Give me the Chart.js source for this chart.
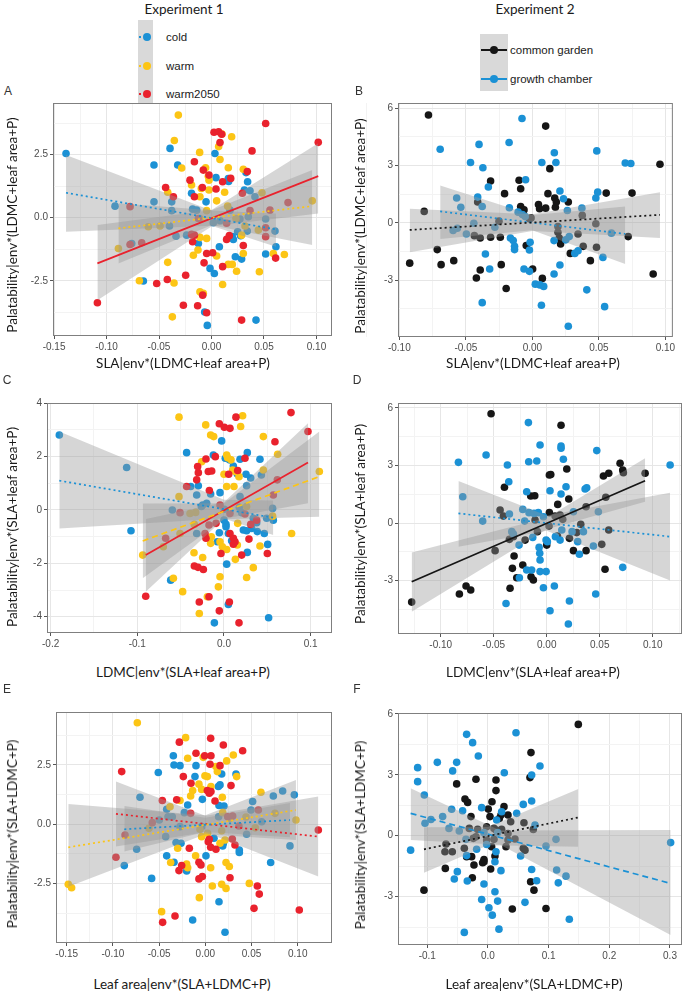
<!DOCTYPE html>
<html>
<head>
<meta charset="utf-8">
<script src="https://cdn.jsdelivr.net/npm/chart.js@4.4.1/dist/chart.umd.min.js"></script>
<style>
    html, body { margin: 0; padding: 0; background: #fff; }
    body { position: relative; width: 685px; height: 992px; overflow: hidden; font-family: 'Liberation Sans', Arial, sans-serif; }
    canvas { position: absolute; }
    .txt { position: absolute; white-space: nowrap; transform: translate(-50%, -50%); color: #1a1a1a; }
    .ttl { font-family: Lato, sans-serif; font-size: 13.5px; }
    .ytl { transform: translate(-50%, -50%) rotate(-90deg); }
    .letter { font-size: 12px; color: #333; }
    .keybox { position: absolute; background: #d9d9d9; }
    .key-dot { position: absolute; width: 8px; height: 8px; border-radius: 50%; transform: translate(-50%, -50%); }
    .key-lbl { position: absolute; font-size: 11.5px; color: #1a1a1a; transform: translateY(-50%); white-space: nowrap; }
</style>
</head>
<body>
<div id="page"></div>
<script>
/* ---------- colours ---------- */
const COLD = '#1b91d5';
const WARM = '#fcc515';
const HOT = '#e9222d';
const GARDEN = '#161616';
const BAND = 'rgba(153,153,153,0.4)';
const DOT = [2, 3];
const DASH = [6, 4];
const SOLID = [];

/* ---------- tick values ---------- */
const xTicks15 = [-0.15, -0.10, -0.05, 0, 0.05, 0.10];
const xMinor15 = [-0.125, -0.075, -0.025, 0.025, 0.075];
const xTicks10 = [-0.10, -0.05, 0, 0.05, 0.10];
const xMinor10 = [-0.125, -0.075, -0.025, 0.025, 0.075, 0.125];
const xTicksC = [-0.2, -0.1, 0, 0.1];
const xMinorC = [-0.15, -0.05, 0.05];
const xTicksF = [-0.1, 0, 0.1, 0.2, 0.3];
const xMinorF = [-0.05, 0.05, 0.15, 0.25];
const yTicks25 = [-2.5, 0, 2.5];
const yMinor25 = [-3.75, -1.25, 1.25, 3.75];
const yTicks3 = [-3, 0, 3, 6];
const yMinor3 = [-4.5, -1.5, 1.5, 4.5];
const yTicks2 = [-4, -2, 0, 2, 4];
const yMinor2 = [-3, -1, 1, 3];

/* ---------- legend ---------- */
const exp1Labels = ['cold', 'warm', 'warm2050'];
const exp2Labels = ['common garden', 'growth chamber'];

/* ---------- panel A : SLA, experiment 1 ---------- */
const A_cold = [[-0.1386,2.55],[-0.0548,2.09],[-0.0395,2.75],[-0.0322,2.09],[-0.0919,0.46],[-0.0548,0.63],[-0.0379,0.63],[-0.0379,0.28],[-0.040,-0.33],[-0.0338,-0.73],[-0.076,-1.02],[-0.0649,-2.51],[-0.0237,-0.69],[-0.019,0.97],[-0.018,0.34],[-0.0141,0.30],[-0.0125,-1.02],[-0.0052,0.63],[-0.0014,-2.01],[0.0027,-2.21],[-0.0065,-3.74],[-0.004,-4.27],[0.0033,2.55],[0.0043,1.59],[0.0075,-1.15],[0.016,1.55],[0.0163,1.44],[0.0176,0.30],[0.0198,-0.75],[0.0208,-0.86],[0.0227,-1.55],[0.0249,-0.56],[0.0278,-0.71],[0.0287,-1.64],[0.0271,-0.05],[0.0313,1.10],[0.0329,1.79],[0.0344,1.43],[0.0367,1.07],[0.0351,0.04],[0.0414,0.83],[0.0424,-4.06],[0.0516,-1.44],[0.0614,-1.15],[0.0605,-0.53],[0.0516,-0.05],[0.0341,-0.53],[0.0017,-0.20],[0.0081,-0.12]];
const A_warm = [[-0.0316,4.07],[-0.0354,3.06],[-0.0284,1.97],[-0.0113,2.59],[-0.0056,1.98],[-0.003,1.65],[0.0068,2.82],[0.0081,2.31],[0.01,3.32],[0.0192,3.21],[0.016,1.98],[0.0125,1.01],[0.0049,0.67],[-0.0024,1.10],[-0.0097,1.16],[-0.0024,1.49],[-0.011,0.83],[-0.019,1.30],[-0.0417,1.01],[-0.0887,-1.22],[-0.0687,-2.50],[-0.0602,-0.36],[-0.049,-0.33],[-0.0417,-1.77],[-0.0357,-2.59],[-0.0373,-3.93],[-0.0173,-1.49],[-0.0129,-1.28],[-0.011,-0.78],[-0.011,-2.94],[-0.0078,-3.00],[-0.0046,-0.82],[0.0049,-1.52],[0.0106,-2.65],[0.016,-1.85],[0.0198,-1.85],[0.0239,-2.12],[0.0287,-0.69],[0.0303,-1.42],[0.0303,1.92],[0.0319,-0.33],[0.0456,-2.14],[0.0481,0.99],[0.0446,-0.49],[0.0589,-1.42],[0.0694,-1.46],[0.096,0.67],[0.0154,0.46],[-0.0046,0.28],[0.0233,-0.03],[-0.011,-0.03]];
const A_hot = [[-0.1087,-3.37],[-0.0522,-2.61],[-0.0421,-2.45],[-0.0437,1.20],[-0.0363,0.83],[-0.0246,-2.28],[-0.0268,-3.47],[-0.0132,-3.49],[-0.0084,-3.07],[-0.0046,-3.77],[-0.0205,1.49],[-0.0163,2.22],[-0.0163,0.83],[-0.0078,1.89],[-0.0024,1.69],[-0.0087,1.20],[0.0024,3.39],[0.0068,3.41],[0.0097,3.31],[0.0081,2.98],[0.0043,1.14],[0.0106,1.43],[0.0183,1.56],[0.0294,0.97],[0.0341,1.83],[0.0386,2.65],[0.0516,3.74],[0.1017,2.99],[0.0729,0.60],[0.0557,0.30],[0.0516,-0.40],[0.0516,-0.75],[0.0611,-1.60],[0.0367,0.28],[0.0287,-4.06],[0.0303,-1.10],[0.0106,-1.94],[0.017,-0.71],[0.0144,-0.86],[-0.0046,-1.42],[0.0011,-1.39],[-0.0071,-1.79],[-0.018,-0.95],[-0.0163,-0.69],[-0.019,-0.66],[-0.0776,-1.06],[-0.0665,-0.99],[-0.0776,0.44],[-0.0125,-0.03],[0.0144,-0.22]];
const A_fitCold = [[-0.1386,0.99],[0.0614,-0.46]];
const A_fitWarm = [[-0.0887,-0.42],[0.096,0.46]];
const A_fitHot = [[-0.1087,-1.81],[0.1017,1.65]];
// band rows: [x, lower, upper]
const A_bandCold = [[-0.1386,-0.56,2.49],[0,-0.32,0.29],[0.0614,-1.15,0.17]];
const A_bandWarm = [[-0.0887,-1.81,0.57],[0,-0.30,0.30],[0.096,-1.08,1.89]];
const A_bandHot = [[-0.1087,-3.27,-0.29],[0,-0.35,0.31],[0.1017,0.17,2.95]];

/* ---------- panel B : SLA, experiment 2 ---------- */
const B_garden = [[-0.0781,5.65],[-0.0813,0.60],[-0.0922,-2.11],[-0.0715,-1.40],[-0.0686,-2.19],[-0.0591,-1.98],[-0.0421,-2.89],[-0.0392,-2.47],[-0.0392,-0.79],[-0.0436,-0.67],[-0.0411,1.09],[-0.0314,2.19],[-0.0314,-0.75],[-0.0251,0.09],[-0.0241,-0.75],[-0.0234,-2.19],[-0.0209,1.53],[-0.0197,-3.44],[-0.0100,2.23],[-0.0088,1.79],[-0.0088,0.86],[-0.0063,0.68],[-0.0046,-1.19],[-0.0022,0.21],[-0.0010,0.26],[0.0002,-2.42],[0.0046,0.96],[0.0054,0.74],[0.0075,-2.91],[0.0100,5.07],[0.0100,0.77],[0.0117,1.53],[0.0131,2.84],[0.0168,1.30],[0.0173,0.82],[0.0180,1.09],[0.0192,-0.49],[0.0192,-0.19],[0.0202,-0.79],[0.0212,-1.11],[0.0270,1.09],[0.0285,-1.60],[0.0343,-0.58],[0.0375,0.39],[0.0382,-1.23],[0.0436,-1.98],[0.0482,-1.28],[0.0477,-0.05],[0.0555,1.56],[0.0720,-0.72],[0.0749,1.56],[0.0908,-2.68],[0.0959,3.07]];
const B_chamber = [[-0.0693,3.86],[-0.0465,3.16],[-0.0401,4.11],[-0.0372,2.89],[-0.0331,1.88],[-0.0411,1.35],[-0.0377,0.86],[-0.0569,1.30],[-0.0538,0.82],[-0.0596,-0.40],[-0.0564,-0.28],[-0.0496,-0.58],[-0.0440,-0.02],[-0.0353,-1.63],[-0.0321,-2.42],[-0.0377,-4.18],[-0.0282,-0.23],[-0.0175,4.21],[-0.0173,0.79],[-0.0165,-0.79],[-0.0144,-0.93],[-0.0134,-1.23],[-0.0134,-1.40],[-0.0078,5.47],[-0.0107,0.56],[-0.0075,0.44],[-0.0054,0.33],[-0.0051,2.26],[-0.0063,-2.42],[-0.0022,-2.54],[-0.0017,-1.02],[-0.0022,-1.42],[0.0022,-3.21],[0.0056,-3.25],[0.0085,-3.33],[0.0068,-4.32],[0.0071,3.16],[0.0165,3.67],[0.0177,3.16],[0.0163,-0.93],[0.0163,-2.68],[0.0207,1.67],[0.0207,-2.21],[0.0234,1.26],[0.0251,-0.89],[0.0263,0.65],[0.0270,-5.42],[0.0277,-0.72],[0.0319,-1.60],[0.0343,-1.46],[0.0372,0.77],[0.0409,-3.51],[0.0477,1.30],[0.0484,3.77],[0.0491,1.61],[0.0530,-1.81],[0.0543,-4.39],[0.0594,-0.54],[0.0698,3.14],[0.0740,3.11]];
const B_fitGarden = [[-0.0922,-0.37],[0.0959,0.42]];
const B_fitChamber = [[-0.0693,0.60],[0.0698,-0.58]];
const B_bandGarden = [[-0.0922,-1.54,0.74],[0,-0.42,0.45],[0.0959,-0.79,1.61]];
const B_bandChamber = [[-0.0693,-0.84,1.96],[0,-0.39,0.41],[0.0698,-2.16,0.86]];

/* ---------- panel C : LDMC, experiment 1 ---------- */
const C_cold = [[-0.19,2.81],[-0.1123,1.59],[-0.1073,-0.78],[-0.0596,0.0],[-0.0615,-2.63],[-0.0431,2.15],[-0.0384,0.88],[-0.0296,0.91],[-0.0315,0.56],[-0.0315,-0.88],[-0.0261,0.13],[-0.0246,0.19],[-0.020,0.25],[-0.0154,0.60],[-0.0123,2.06],[-0.0046,0.65],[-0.0027,2.59],[0.0,-0.38],[0.0023,-0.54],[0.0023,-0.63],[0.0031,-2.03],[0.005,-0.88],[0.0015,1.94],[0.0062,1.88],[-0.0077,-1.19],[-0.0054,-0.85],[0.0088,-1.15],[0.0108,1.65],[0.0154,1.35],[0.0177,0.10],[0.0185,1.90],[0.0204,-0.10],[0.0223,-0.75],[0.0254,1.34],[0.0261,0.91],[0.0269,2.15],[0.0261,-0.78],[0.0269,-1.59],[0.0308,1.20],[0.0319,-0.69],[0.0338,-0.31],[0.0377,-0.48],[0.0384,-0.81],[0.0415,1.90],[0.0431,1.31],[0.0465,-0.88],[0.0492,-0.31],[0.0504,-1.29],[0.0561,0.06],[0.0569,-0.38],[0.0004,0.03],[0.0185,0.50],[0.005,-3.54],[-0.0111,-4.23],[0.0515,-4.04]];
const C_warm = [[-0.0519,3.48],[-0.0211,3.19],[-0.0154,2.81],[-0.0119,2.75],[0.0215,3.53],[0.0192,3.13],[-0.0258,1.81],[0.0031,2.06],[0.0042,1.96],[0.0081,1.88],[0.0,1.34],[0.0100,1.50],[0.0131,1.44],[0.0173,1.25],[0.0031,0.88],[0.0115,0.88],[0.0454,2.75],[0.0454,1.50],[0.0619,2.09],[0.11,1.44],[0.078,-0.88],[0.0561,-0.23],[-0.0519,0.50],[-0.0327,-0.09],[-0.0342,-0.54],[-0.0507,-0.88],[-0.07,-1.38],[-0.0938,-1.69],[-0.0584,-2.56],[-0.0346,-1.60],[-0.0246,-1.78],[-0.0146,-1.0],[-0.0154,-1.25],[-0.0046,-1.19],[-0.0019,-1.38],[0.0031,-1.48],[0.0131,-1.85],[0.0154,-1.31],[0.0158,-0.5],[0.0261,0.13],[0.0338,-2.16],[0.0415,-1.35],[0.0261,-2.53],[-0.0046,-2.50],[-0.0065,-2.88],[-0.0477,-3.06],[-0.0392,-0.13],[-0.0192,-3.25],[-0.0285,-3.88]];
const C_hot = [[-0.0903,-3.23],[-0.0673,-1.06],[-0.0507,-0.10],[-0.0431,0.88],[-0.0315,1.13],[-0.0296,1.40],[-0.0304,1.63],[-0.0208,1.91],[-0.0181,1.44],[-0.0142,1.46],[-0.010,2.0],[-0.0169,0.73],[-0.0054,3.23],[0.0004,3.10],[0.0069,3.06],[0.0138,3.48],[0.0054,1.34],[0.0242,1.94],[0.0158,1.48],[0.0773,3.65],[0.0969,2.94],[0.0588,2.56],[0.0615,1.13],[0.0569,0.56],[0.0377,-0.38],[0.0308,-0.54],[0.0288,-1.09],[0.0204,-1.69],[0.0069,-0.88],[0.0108,-1.06],[0.0127,-1.19],[0.0108,-1.28],[-0.0035,-1.63],[-0.0208,-1.06],[-0.0219,-0.88],[-0.0173,-0.56],[-0.0092,-0.50],[-0.0046,0.19],[0.050,-1.63],[-0.0342,-2.10],[0.0242,-0.15],[0.0069,-0.13],[-0.030,-2.15],[-0.0238,-2.23],[-0.0173,-3.25],[-0.0285,-3.45],[0.0062,-3.45],[-0.0054,-3.78],[0.0173,-4.23]];
const C_fitCold = [[-0.19,1.10],[0.0569,-0.29]];
const C_fitWarm = [[-0.0938,-1.16],[0.11,1.25]];
const C_fitHot = [[-0.0903,-1.69],[0.0969,1.78]];
const C_bandCold = [[-0.19,-0.69,2.94],[0,-0.32,0.38],[0.0569,-0.94,0.36]];
const C_bandWarm = [[-0.0938,-2.56,0.24],[0,-0.35,0.25],[0.11,-0.25,2.94]];
const C_bandHot = [[-0.0903,-3.06,-0.34],[0,-0.33,0.29],[0.0969,0.25,3.25]];

/* ---------- panel D : LDMC, experiment 2 ---------- */
const D_garden = [[-0.0525,5.69],[0.0135,5.09],[0.0189,2.81],[0.0038,2.53],[0.0025,2.50],[-0.0399,1.86],[-0.0151,1.41],[-0.0113,1.42],[0.0104,0.97],[0.0208,1.25],[0.0692,3.11],[0.0717,2.76],[0.0535,2.45],[0.0585,2.59],[0.0928,2.59],[0.0723,2.62],[0.0557,1.34],[0.0585,-0.36],[0.0519,-1.11],[0.055,-2.41],[0.0371,-1.44],[0.0371,0.85],[0.0321,-0.07],[0.0283,-0.50],[0.0252,-1.44],[0.0214,-0.80],[0.0101,-0.68],[0.0151,0.19],[0.0126,0.42],[0.0079,0.36],[0.0025,0.54],[0.0022,-0.16],[0.0,-1.15],[-0.0088,-0.45],[-0.011,0.16],[-0.0204,-0.89],[-0.0308,-1.72],[-0.0324,-2.36],[-0.0226,-2.19],[-0.0283,-2.85],[-0.0148,-2.80],[-0.0126,-2.97],[-0.0346,-3.40],[-0.0487,-1.44],[-0.044,0.68],[-0.0409,0.36],[-0.0352,-0.85],[-0.0314,-0.71],[-0.0761,-3.28],[-0.0717,-3.49],[-0.0824,-3.70],[-0.1274,-4.12]];
const D_chamber = [[-0.0173,5.23],[-0.0063,4.06],[0.0135,4.01],[0.0135,3.89],[0.0157,3.32],[-0.0572,3.54],[-0.0833,3.16],[-0.0371,3.02],[-0.017,3.19],[-0.0094,3.23],[-0.0358,2.15],[-0.0189,1.63],[0.0031,1.68],[0.0135,1.51],[0.0182,1.89],[0.0362,1.77],[0.0377,1.84],[0.0472,3.77],[0.1164,3.02],[-0.0792,1.37],[-0.0604,0.10],[-0.0352,0.47],[-0.0226,0.71],[-0.0208,0.10],[-0.0167,0.54],[-0.012,0.50],[-0.0079,0.54],[-0.0031,0.33],[-0.0132,-0.75],[-0.033,-0.45],[-0.0314,-0.57],[-0.0261,-1.15],[-0.0072,-1.27],[-0.0066,-1.58],[-0.0006,-0.89],[0.0006,-0.97],[0.0082,-0.71],[0.0126,-0.89],[0.0142,-0.36],[0.0239,-0.45],[0.0252,0.59],[0.0292,-0.97],[0.0308,-1.63],[0.0346,-0.45],[0.044,-1.20],[0.0487,0.59],[0.0717,-2.31],[-0.0063,-1.93],[-0.0063,-2.53],[-0.0006,-2.53],[-0.0189,-2.45],[-0.0142,-2.45],[-0.0258,-2.85],[-0.0031,-3.37],[0.0072,-3.28],[0.0462,-3.70],[0.0214,-4.06],[-0.0384,-4.19],[0.0031,-4.57],[0.0204,-5.26]];
const D_fitGarden = [[-0.1274,-3.06],[0.0928,2.20]];
const D_fitChamber = [[-0.0833,0.50],[0.1164,-0.71]];
const D_bandGarden = [[-0.1274,-4.62,-1.53],[0,-0.32,0.28],[0.0928,1.11,3.37]];
const D_bandChamber = [[-0.0833,-1.23,2.19],[0,-0.40,0.39],[0.1164,-3.0,1.58]];

/* ---------- panel E : leaf area, experiment 1 ---------- */
const E_cold = [[-0.0346,2.89],[-0.0339,2.50],[-0.0274,2.47],[-0.0509,2.18],[-0.0101,2.47],[-0.0112,2.01],[0.0177,2.12],[0.0332,2.12],[0.0159,1.66],[0.0141,1.59],[-0.0032,1.05],[-0.0191,0.81],[-0.0707,1.14],[-0.0418,0.63],[-0.0404,0.32],[-0.0227,0.49],[-0.0357,0.32],[-0.0498,0.18],[0.0148,0.79],[0.0202,0.77],[0.0144,0.32],[0.0736,1.19],[0.0837,1.40],[0.0963,1.24],[0.0512,0.96],[0.061,0.11],[0.0494,0.60],[-0.0743,-1.05],[-0.0429,-0.52],[-0.0317,-0.77],[-0.0263,-0.80],[0.0188,-0.91],[0.0094,-0.59],[0.0447,-0.42],[0.0916,-0.91],[-0.004,-0.10],[-0.0274,-0.10],[-0.0877,-1.74],[-0.0418,-1.33],[-0.0339,-1.60],[-0.0202,-1.97],[0.0007,-1.33],[0.0368,-1.08],[0.0368,-1.19],[0.0707,-1.61],[-0.0581,-2.28],[0.0148,-3.26],[-0.0137,-4.03],[0.0213,-4.55],[0.0195,-0.80]];
const E_warm = [[-0.0736,4.28],[-0.0213,3.65],[-0.0191,2.78],[-0.0022,2.82],[-0.0004,2.04],[0.0022,2.01],[0.0115,2.43],[0.013,2.22],[0.0231,2.67],[0.0303,2.92],[0.0339,2.01],[-0.0137,1.42],[-0.0159,1.19],[-0.0069,1.69],[-0.004,1.47],[0.0061,1.59],[0.0184,1.14],[-0.0274,1.0],[0.0602,1.35],[0.0981,0.18],[0.0754,0.46],[0.044,0.31],[0.0541,-0.15],[0.0188,0.49],[0.0177,-0.27],[0.0213,-0.66],[0.0159,-0.80],[-0.0299,-1.01],[-0.0105,-1.33],[-0.004,-0.52],[-0.0382,0.74],[-0.061,-0.17],[-0.0058,-0.21],[0.0267,0.25],[0.0025,-0.38],[-0.1483,-2.53],[-0.1447,-2.67],[-0.0375,-1.61],[-0.0202,-1.67],[-0.0191,-1.83],[0.0058,-1.83],[0.0224,-1.61],[0.026,-1.78],[0.0076,-2.60],[0.0177,-2.53],[0.0224,-2.70],[-0.0065,-3.09],[-0.0473,-3.68],[0.0476,-2.49]];
const E_hot = [[-0.0905,2.22],[-0.0281,3.46],[0.0058,3.62],[0.0195,3.34],[0.0404,3.10],[-0.0101,2.99],[-0.0007,2.89],[0.0061,2.89],[0.0051,2.53],[-0.0238,2.01],[0.0159,2.47],[-0.0155,1.73],[0.0022,1.42],[0.0043,1.31],[0.0061,1.38],[0.0278,1.63],[0.0105,0.98],[-0.0465,1.0],[-0.031,1.03],[-0.0159,0.46],[-0.0574,0.07],[-0.0869,-0.45],[-0.0967,-1.39],[0.0043,-0.63],[0.0058,-0.97],[0.0115,-1.05],[0.0032,-0.73],[0.0292,-0.62],[0.0296,0.35],[0.0321,-0.87],[0.0364,-0.07],[0.0574,0.60],[0.1223,-0.24],[-0.0173,-1.01],[0.0242,0.32],[-0.0069,-1.60],[-0.0047,-1.71],[-0.0256,-1.74],[-0.0285,-1.95],[-0.0069,-2.30],[-0.0032,-2.20],[0.0267,-2.25],[0.0563,-2.60],[0.0584,-2.94],[0.0527,-3.54],[0.1017,-3.61],[-0.0328,-3.86],[-0.0462,-4.13]];
const E_fitCold = [[-0.0877,-0.21],[0.0916,0.18]];
const E_fitWarm = [[-0.1483,-0.97],[0.0981,0.60]];
const E_fitHot = [[-0.0967,0.44],[0.1223,-0.52]];
const E_bandCold = [[-0.0877,-1.15,0.77],[0,-0.32,0.28],[0.0916,-0.55,0.90]];
const E_bandWarm = [[-0.1483,-2.63,0.86],[0,-0.42,0.38],[0.0981,-0.66,1.87]];
const E_bandHot = [[-0.0967,-0.94,1.80],[0,-0.33,0.36],[0.1223,-2.20,1.17]];

/* ---------- panel F : leaf area, experiment 2 ---------- */
const F_garden = [[0.1489,5.48],[0.0709,4.09],[0.0692,2.86],[-0.0198,2.78],[0.0132,2.74],[0.0132,2.22],[-0.0516,2.55],[-0.0379,1.81],[-0.0335,1.64],[0.0066,1.67],[0.0005,1.31],[0.0033,0.94],[0.0264,1.43],[0.033,1.02],[0.0374,0.69],[-0.028,0.94],[0.0187,0.85],[0.0214,1.02],[0.0593,0.64],[0.0747,0.31],[-0.0022,0.44],[-0.017,0.31],[-0.0308,0.36],[-0.0242,-0.13],[-0.0198,-0.05],[-0.0692,-0.41],[-0.0709,-0.79],[-0.0588,-0.79],[0.0099,0.36],[0.0132,0.28],[0.0099,-0.18],[0.0225,0.31],[0.033,0.11],[0.0445,-0.16],[0.0582,-0.62],[0.061,-0.71],[-0.0022,-0.21],[0.006,-0.54],[-0.0352,-1.03],[-0.0269,-1.03],[-0.0066,-1.17],[0.0115,-1.0],[0.0297,-0.54],[0.033,-0.21],[-0.039,-0.62],[-0.0066,-1.28],[-0.0231,-1.44],[-0.0088,-1.33],[-0.0703,-1.61],[0.0044,-1.64],[-0.0258,-2.07],[-0.1055,-2.68],[0.0703,-2.27],[0.0758,-2.68],[0.0401,-3.61],[0.0956,-3.58]];
const F_chamber = [[0.0462,5.07],[-0.0352,4.99],[-0.0253,4.58],[-0.0159,3.92],[-0.1159,3.35],[-0.1159,2.66],[-0.0835,3.61],[-0.0516,3.61],[-0.0582,3.19],[0.0269,3.10],[0.0857,3.43],[0.072,2.99],[-0.1049,2.0],[0.072,1.71],[0.0582,1.54],[-0.0104,1.38],[0.0225,1.18],[0.0473,1.10],[-0.0599,1.30],[-0.0418,1.23],[-0.0747,0.94],[-0.094,0.80],[0.0143,0.77],[0.0775,0.53],[-0.1038,0.61],[-0.0643,0.36],[-0.0473,0.23],[-0.0363,-0.18],[-0.0066,0.15],[0.0159,0.15],[0.1121,-0.18],[0.0956,-0.51],[-0.0022,-0.43],[-0.1275,-0.71],[0.3011,-0.34],[-0.0187,-0.67],[0.0132,-0.79],[-0.0352,-0.98],[0.0538,-1.0],[0.0115,-1.28],[-0.0505,-1.77],[-0.0555,-2.13],[-0.0341,-2.23],[-0.0066,-2.38],[0.0214,-1.72],[0.0115,-2.76],[0.0159,-3.22],[-0.0104,-3.14],[0.0016,-3.55],[0.0071,-3.91],[-0.039,-4.76],[0.0181,-4.60],[0.061,-3.28],[0.072,-1.66],[0.0802,-2.22],[0.1132,-1.69],[0.1159,-2.32],[0.1286,-1.99],[0.1341,-4.11]];
const F_fitGarden = [[-0.1055,-0.67],[0.1489,0.90]];
const F_fitChamber = [[-0.1275,1.10],[0.3011,-2.35]];
const F_bandGarden = [[-0.1055,-1.82,0.41],[0,-0.47,0.43],[0.1489,-0.54,2.30]];
const F_bandChamber = [[-0.1275,-0.21,2.33],[0.02,-0.44,0.26],[0.3011,-4.89,0.28]];

/* ---------- layout ---------- */
const YW = 40;   // y axis box width
const XH = 22;   // x axis box height
const PT = 10;   // top padding inside canvas
const PR = 18;   // right padding inside canvas

const panels = [
    { letter: 'A', left: 53, top: 103, width: 279, height: 233,
      x: [-0.151, 0.1148, xTicks15, xMinor15, 2], y: [-4.69, 4.55, yTicks25, yMinor25, 1],
      groups: [
          { points: A_cold, fit: A_fitCold, band: A_bandCold, color: COLD, dash: DOT },
          { points: A_warm, fit: A_fitWarm, band: A_bandWarm, color: WARM, dash: DOT },
          { points: A_hot, fit: A_fitHot, band: A_bandHot, color: HOT, dash: SOLID },
      ],
      xTitle: 'SLA|env*(LDMC+leaf area+P)', xTitlePos: [183, 363],
      yTitle: 'Palatability|env*(LDMC+leaf area+P)', yTitlePos: [12, 225], letterPos: [8, 91] },
    { letter: 'B', left: 398, top: 103, width: 283, height: 234,
      x: [-0.101, 0.1056, xTicks10, xMinor10, 2], y: [-5.98, 6.28, yTicks3, yMinor3, 0],
      groups: [
          { points: B_garden, fit: B_fitGarden, band: B_bandGarden, color: GARDEN, dash: DOT },
          { points: B_chamber, fit: B_fitChamber, band: B_bandChamber, color: COLD, dash: DOT },
      ],
      xTitle: 'SLA|env*(LDMC+leaf area+P)', xTitlePos: [533, 363],
      yTitle: 'Palatability|env*(LDMC+leaf area+P)', yTitlePos: [360, 226], letterPos: [359, 91] },
    { letter: 'C', left: 47, top: 403, width: 285, height: 230,
      x: [-0.2042, 0.1246, xTicksC, xMinorC, 1], y: [-4.61, 4.01, yTicks2, yMinor2, 0],
      groups: [
          { points: C_cold, fit: C_fitCold, band: C_bandCold, color: COLD, dash: DOT },
          { points: C_warm, fit: C_fitWarm, band: C_bandWarm, color: WARM, dash: DASH },
          { points: C_hot, fit: C_fitHot, band: C_bandHot, color: HOT, dash: SOLID },
      ],
      xTitle: 'LDMC|env*(SLA+leaf area+P)', xTitlePos: [183, 672],
      yTitle: 'Palatability|env*(SLA+leaf area+P)', yTitlePos: [12, 527], letterPos: [7, 380] },
    { letter: 'D', left: 398, top: 403, width: 284, height: 231,
      x: [-0.1403, 0.1276, xTicks10, xMinor10, 2], y: [-5.78, 6.25, yTicks3, yMinor3, 0],
      groups: [
          { points: D_garden, fit: D_fitGarden, band: D_bandGarden, color: GARDEN, dash: SOLID },
          { points: D_chamber, fit: D_fitChamber, band: D_bandChamber, color: COLD, dash: DOT },
      ],
      xTitle: 'LDMC|env*(SLA+leaf area+P)', xTitlePos: [533, 672],
      yTitle: 'Palatability|env*(SLA+leaf area+P)', yTitlePos: [360, 524], letterPos: [357, 380] },
    { letter: 'E', left: 56, top: 712, width: 276, height: 231,
      x: [-0.1616, 0.1371, xTicks15, xMinor15, 2], y: [-5.0, 4.73, yTicks25, yMinor25, 1],
      groups: [
          { points: E_cold, fit: E_fitCold, band: E_bandCold, color: COLD, dash: DOT },
          { points: E_warm, fit: E_fitWarm, band: E_bandWarm, color: WARM, dash: DOT },
          { points: E_hot, fit: E_fitHot, band: E_bandHot, color: HOT, dash: DOT },
      ],
      xTitle: 'Leaf area|env*(SLA+LDMC+P)', xTitlePos: [182, 984],
      yTitle: 'Palatability|env*(SLA+LDMC+P)', yTitlePos: [12, 834], letterPos: [7, 689] },
    { letter: 'F', left: 398, top: 713, width: 284, height: 232,
      x: [-0.1483, 0.3198, xTicksF, xMinorF, 1], y: [-5.38, 6.04, yTicks3, yMinor3, 0],
      groups: [
          { points: F_garden, fit: F_fitGarden, band: F_bandGarden, color: GARDEN, dash: DOT },
          { points: F_chamber, fit: F_fitChamber, band: F_bandChamber, color: COLD, dash: DASH },
      ],
      xTitle: 'Leaf area|env*(SLA+LDMC+P)', xTitlePos: [534, 984],
      yTitle: 'Palatability|env*(SLA+LDMC+P)', yTitlePos: [360, 835], letterPos: [357, 689] },
];

const page = document.getElementById('page');

function addText(text, cls, x, y) {
    const el = document.createElement('div');
    el.className = 'txt ' + cls;
    el.textContent = text;
    el.style.left = x + 'px';
    el.style.top = y + 'px';
    page.appendChild(el);
    return el;
}

// ggplot style panel border on all four sides
const panelBorder = {
    id: 'panelBorder',
    afterDraw(chart) {
        const { ctx, chartArea: a } = chart;
        ctx.save();
        ctx.strokeStyle = '#7f7f7f';
        ctx.lineWidth = 1;
        ctx.strokeRect(a.left + 0.5, a.top + 0.5, a.right - a.left - 1, a.bottom - a.top - 1);
        ctx.restore();
    }
};

function makeAxis(spec, isX) {
    const [min, max, major, minor, digits] = spec;
    const majorSet = new Set(major);
    const all = [...major, ...minor].sort((a, b) => a - b);
    return {
        type: 'linear',
        position: isX ? 'bottom' : 'left',
        min, max,
        bounds: 'data',
        afterBuildTicks: scale => { scale.ticks = all.map(v => ({ value: v })); },
        afterFit: scale => { if (isX) scale.height = XH; else scale.width = YW; },
        ticks: {
            autoSkip: false,
            maxRotation: 0,
            padding: 2,
            color: '#4d4d4d',
            font: { family: 'Liberation Sans', size: 10 },
            callback: v => majorSet.has(v) ? v.toFixed(digits) : '',
        },
        grid: {
            color: c => (c.tick && majorSet.has(c.tick.value)) ? '#e6e6e6' : '#f3f3f3',
            tickColor: c => (c.tick && majorSet.has(c.tick.value)) ? '#555' : 'rgba(0,0,0,0)',
            tickLength: 3,
            lineWidth: 1,
        },
        border: { display: false },
    };
}

function groupDatasets(g, idx) {
    const hidden = 'rgba(0,0,0,0)';
    return [
        {
            type: 'scatter',
            data: g.points.map(([x, y]) => ({ x, y })),
            backgroundColor: g.color,
            borderWidth: 0,
            pointRadius: 3.8,
            order: 10 - idx,
        },
        {
            type: 'line',
            data: g.band.map(([x, lo, hi]) => ({ x, y: hi })),
            borderColor: hidden, borderWidth: 0, pointRadius: 0,
            showLine: true, fill: '+1', backgroundColor: BAND,
            order: 5,
        },
        {
            type: 'line',
            data: g.band.map(([x, lo]) => ({ x, y: lo })),
            borderColor: hidden, borderWidth: 0, pointRadius: 0,
            showLine: true, fill: false,
            order: 5,
        },
        {
            type: 'line',
            data: g.fit.map(([x, y]) => ({ x, y })),
            borderColor: g.color, borderWidth: 1.7, borderDash: g.dash,
            pointRadius: 0, showLine: true, fill: false,
            order: 1,
        },
    ];
}

function renderPanel(p) {
    const canvas = document.createElement('canvas');
    const w = p.width + YW + PR;
    const h = p.height + PT + XH;
    canvas.width = w;
    canvas.height = h;
    canvas.style.left = (p.left - YW) + 'px';
    canvas.style.top = (p.top - PT) + 'px';
    canvas.style.width = w + 'px';
    canvas.style.height = h + 'px';
    page.appendChild(canvas);

    const datasets = [];
    p.groups.forEach((g, i) => datasets.push(...groupDatasets(g, i)));

    new Chart(canvas.getContext('2d'), {
        type: 'scatter',
        data: { datasets },
        options: {
            responsive: false,
            animation: false,
            events: [],
            layout: { padding: { top: PT, right: PR, left: 0, bottom: 0 } },
            plugins: { legend: { display: false }, tooltip: { enabled: false } },
            scales: { x: makeAxis(p.x, true), y: makeAxis(p.y, false) },
        },
        plugins: [panelBorder],
    });

    addText(p.letter, 'letter', p.letterPos[0], p.letterPos[1]);
    addText(p.xTitle, 'ttl', p.xTitlePos[0], p.xTitlePos[1]);
    addText(p.yTitle, 'ttl ytl', p.yTitlePos[0], p.yTitlePos[1]);
}

function renderLegends() {
    addText('Experiment 1', 'ttl', 184, 9);
    addText('Experiment 2', 'ttl', 535, 9);

    const box1 = document.createElement('div');
    box1.className = 'keybox';
    Object.assign(box1.style, { left: '138px', top: '20px', width: '15px', height: '84px' });
    page.appendChild(box1);
    const colors1 = [COLD, WARM, HOT];
    const rows1 = [37, 66, 94];
    exp1Labels.forEach((label, i) => {
        const tick = document.createElement('div');
        Object.assign(tick.style, { position: 'absolute', left: '139px', top: (rows1[i] - 1) + 'px', width: '2px', height: '2px', background: colors1[i] });
        page.appendChild(tick);
        const dot = document.createElement('div');
        dot.className = 'key-dot';
        Object.assign(dot.style, { left: '146.5px', top: rows1[i] + 'px', background: colors1[i] });
        page.appendChild(dot);
        const lbl = document.createElement('div');
        lbl.className = 'key-lbl';
        lbl.textContent = label;
        Object.assign(lbl.style, { left: '166px', top: rows1[i] + 'px' });
        page.appendChild(lbl);
    });

    const box2 = document.createElement('div');
    box2.className = 'keybox';
    Object.assign(box2.style, { left: '480px', top: '34px', width: '28px', height: '57px' });
    page.appendChild(box2);
    const colors2 = [GARDEN, COLD];
    const rows2 = [50, 79];
    exp2Labels.forEach((label, i) => {
        const line = document.createElement('div');
        Object.assign(line.style, { position: 'absolute', left: '481px', top: (rows2[i] - 1) + 'px', width: '26px', height: '2px', background: colors2[i] });
        page.appendChild(line);
        const dot = document.createElement('div');
        dot.className = 'key-dot';
        Object.assign(dot.style, { left: '494px', top: rows2[i] + 'px', background: colors2[i] });
        page.appendChild(dot);
        const lbl = document.createElement('div');
        lbl.className = 'key-lbl';
        lbl.textContent = label;
        Object.assign(lbl.style, { left: '510px', top: rows2[i] + 'px' });
        page.appendChild(lbl);
    });
}

renderLegends();
panels.forEach(renderPanel);
</script>
</body>
</html>
